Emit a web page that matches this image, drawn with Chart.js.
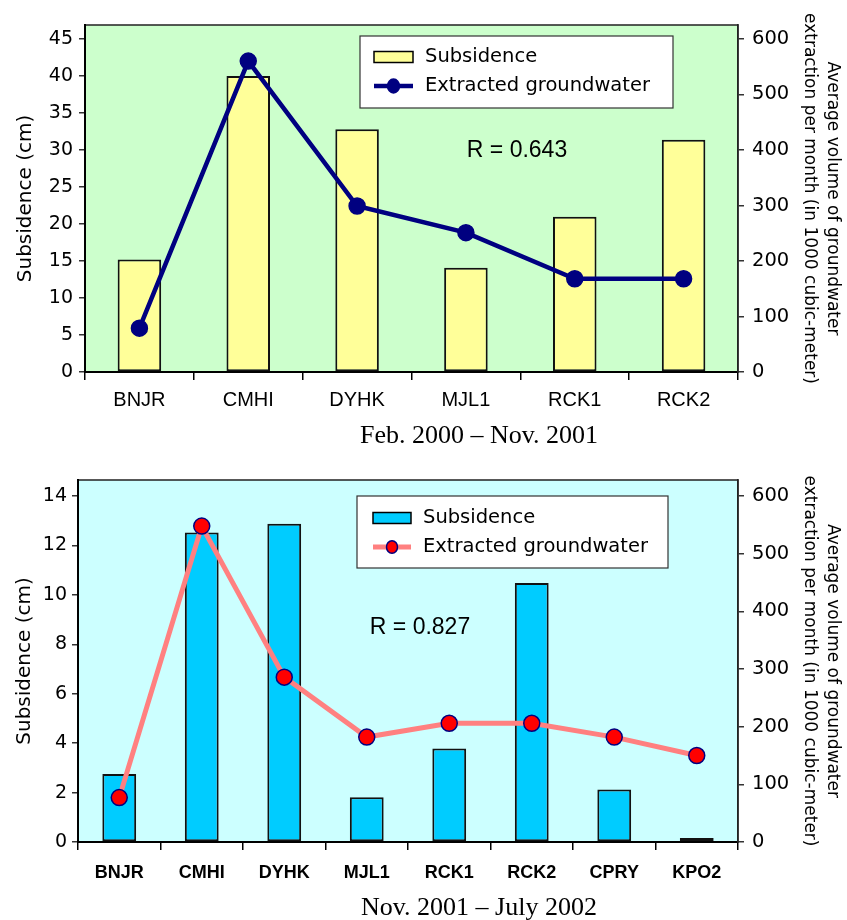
<!DOCTYPE html>
<html>
<head>
<meta charset="utf-8">
<script src="https://cdn.jsdelivr.net/npm/chart.js@4.4.1/dist/chart.umd.min.js"></script>
<style>
  body { margin: 0; background: #fff; }
  #wrap { position: relative; width: 847px; height: 920px; }
  #wrap canvas { position: absolute; left: 0; }
  .caption {
    position: absolute; left: 329px; width: 300px; text-align: center;
    font: 26px 'Liberation Serif', 'Times New Roman', serif; line-height: 30px; color: #000;
  }
</style>
</head>
<body>
<div id="wrap">
  <canvas id="chartTop" width="847" height="460" style="top:0"></canvas>
  <canvas id="chartBottom" width="847" height="460" style="top:460px"></canvas>
  <div class="caption" style="top:420px">Feb. 2000 – Nov. 2001</div>
  <div class="caption" style="top:892px">Nov. 2001 – July 2002</div>
</div>
<script>
// --- DATA ---
// Feb. 2000 - Nov. 2001
const sitesTop = ['BNJR', 'CMHI', 'DYHK', 'MJL1', 'RCK1', 'RCK2'];
const subsidenceTop = [15.2, 40.0, 32.8, 14.1, 21.0, 31.4];      // cm
const groundwaterTop = [79, 560, 299, 251, 168, 168];            // 1000 m3 / month
const rTop = 'R = 0.643';

// Nov. 2001 - July 2002
const sitesBottom = ['BNJR', 'CMHI', 'DYHK', 'MJL1', 'RCK1', 'RCK2', 'CPRY', 'KPO2'];
const subsidenceBottom = [2.75, 12.53, 12.88, 1.81, 3.78, 10.48, 2.12, 0.16];
const groundwaterBottom = [77, 548, 286, 182, 206, 206, 182, 150];
const rBottom = 'R = 0.827';

const leftTicksTop = [0, 5, 10, 15, 20, 25, 30, 35, 40, 45];
const leftTicksBottom = [0, 2, 4, 6, 8, 10, 12, 14];
const rightTicks = [0, 100, 200, 300, 400, 500, 600];

const subsidenceLabel = 'Subsidence';
const groundwaterLabel = 'Extracted groundwater';
const leftTitle = 'Subsidence (cm)';
const rightTitle = ['Average volume of groundwater', 'extraction per month (in 1000 cubic-meter)'];

Chart.defaults.font.family = "'DejaVu Sans', Verdana, sans-serif";
Chart.defaults.color = '#000';

// plot background + frame
const plotFrame = {
  id: 'plotFrame',
  beforeDraw(chart, args, o) {
    const { ctx, chartArea: a } = chart;
    ctx.save();
    ctx.fillStyle = o.color;
    ctx.fillRect(a.left, a.top, a.right - a.left, a.bottom - a.top);
    ctx.strokeStyle = '#222';
    ctx.lineWidth = 1.5;
    ctx.strokeRect(a.left, a.top, a.right - a.left, a.bottom - a.top);
    ctx.restore();
  }
};

// boxed legend inside the plot + the R label
const boxLegend = {
  id: 'boxLegend',
  afterDraw(chart, args, o) {
    const ctx = chart.ctx;
    const line = chart.data.datasets[0];
    const bar = chart.data.datasets[1];
    ctx.save();
    ctx.fillStyle = '#fff';
    ctx.fillRect(o.x, o.y, o.w, o.h);
    ctx.strokeStyle = '#333';
    ctx.lineWidth = 1.2;
    ctx.strokeRect(o.x, o.y, o.w, o.h);

    // bar swatch
    ctx.fillStyle = bar.backgroundColor;
    ctx.fillRect(o.swX, o.row1 - 5.5, o.swW, 11);
    ctx.strokeStyle = '#000';
    ctx.lineWidth = 1.5;
    ctx.strokeRect(o.swX, o.row1 - 5.5, o.swW, 11);

    // line swatch
    ctx.strokeStyle = line.borderColor;
    ctx.lineWidth = line.borderWidth;
    ctx.beginPath();
    ctx.moveTo(o.swX, o.row2);
    ctx.lineTo(o.swX + o.swW, o.row2);
    ctx.stroke();
    ctx.beginPath();
    ctx.ellipse(o.swX + o.swW / 2, o.row2, o.dotR, o.dotR * 1.15, 0, 0, Math.PI * 2);
    ctx.fillStyle = line.pointBackgroundColor;
    ctx.fill();
    ctx.strokeStyle = line.pointBorderColor;
    ctx.lineWidth = line.pointBorderWidth;
    ctx.stroke();

    ctx.fillStyle = '#000';
    ctx.textBaseline = 'middle';
    ctx.font = "19.5px 'DejaVu Sans', Verdana, sans-serif";
    ctx.fillText(bar.label, o.textX, o.row1);
    ctx.fillText(line.label, o.textX, o.row2);

    ctx.font = "23px 'Liberation Sans', Arial, sans-serif";
    ctx.textAlign = 'center';
    ctx.fillText(o.rText, o.rX, o.rY);
    ctx.restore();
  }
};

function makeChart(canvasId, s) {
  const ctx = document.getElementById(canvasId).getContext('2d');
  return new Chart(ctx, {
    type: 'bar',
    data: {
      labels: s.labels,
      datasets: [{
        type: 'line',
        label: groundwaterLabel,
        data: s.groundwater,
        yAxisID: 'y1',
        borderColor: s.lineColor,
        borderWidth: s.lineWidth,
        pointRadius: 8,
        pointBackgroundColor: s.pointFill,
        pointBorderColor: s.pointBorder,
        pointBorderWidth: 1.5,
        tension: 0,
        order: 1
      }, {
        label: subsidenceLabel,
        data: s.subsidence,
        yAxisID: 'y',
        backgroundColor: s.barColor,
        borderColor: '#111',
        borderWidth: 2,
        borderSkipped: false,
        categoryPercentage: 1,
        barPercentage: s.barPct,
        order: 2
      }]
    },
    options: {
      responsive: false,
      animation: false,
      devicePixelRatio: 1,
      layout: { padding: { top: s.top, left: 0, right: 0, bottom: 0 } },
      plugins: {
        legend: { display: false },
        tooltip: { enabled: false },
        plotFrame: { color: s.bg },
        boxLegend: s.legend
      },
      scales: {
        x: {
          offset: true,
          afterFit: sc => { sc.height = s.xHeight; },
          grid: { offset: true, drawOnChartArea: false, tickLength: 8, color: '#000', lineWidth: 1.5 },
          border: { color: '#000', width: 2 },
          ticks: {
            padding: s.xPad,
            font: { family: "'Liberation Sans', Arial, sans-serif", size: s.xFontSize, weight: s.xWeight }
          }
        },
        y: {
          position: 'left',
          min: 0,
          max: s.leftMax,
          afterFit: sc => { sc.width = s.leftWidth; },
          afterBuildTicks: sc => { sc.ticks = s.leftTicks.map(v => ({ value: v })); },
          grid: { drawOnChartArea: false, tickLength: 6, color: '#333', lineWidth: 1.5 },
          border: { color: '#000', width: 2 },
          ticks: { padding: s.yPad, font: { size: 19 } },
          title: {
            display: true,
            text: leftTitle,
            font: { size: 20 },
            padding: { top: s.leftTitlePad, bottom: 0 }
          }
        },
        y1: {
          position: 'right',
          min: 0,
          max: s.rightMax,
          afterFit: sc => { sc.width = s.rightWidth; },
          afterBuildTicks: sc => { sc.ticks = rightTicks.map(v => ({ value: v })); },
          grid: { drawOnChartArea: false, tickLength: 6, color: '#333', lineWidth: 1.5 },
          border: { color: '#222', width: 1.5 },
          ticks: { padding: 8, font: { size: 19.5 } },
          title: {
            display: true,
            text: rightTitle,
            font: { size: 17, lineHeight: 1.3 },
            padding: { top: 4, bottom: 0 }
          }
        }
      }
    },
    plugins: [plotFrame, boxLegend]
  });
}

makeChart('chartTop', {
  labels: sitesTop,
  subsidence: subsidenceTop,
  groundwater: groundwaterTop,
  leftTicks: leftTicksTop,
  leftMax: 46.9,
  rightMax: 625,
  bg: '#ccffcc',
  barColor: '#ffff99',
  barPct: 0.4,
  lineColor: '#000080',
  lineWidth: 4.5,
  pointFill: '#000080',
  pointBorder: '#000080',
  top: 25,
  xHeight: 88,
  xPad: 8,
  xFontSize: 20,
  xWeight: 'normal',
  leftWidth: 85,
  rightWidth: 109,
  yPad: 6,
  leftTitlePad: 14,
  legend: {
    x: 360, y: 36, w: 313, h: 72,
    swX: 374, swW: 39, row1: 57, row2: 86, textX: 425, dotR: 6,
    rText: rTop, rX: 517, rY: 151
  }
});

makeChart('chartBottom', {
  labels: sitesBottom,
  subsidence: subsidenceBottom,
  groundwater: groundwaterBottom,
  leftTicks: leftTicksBottom,
  leftMax: 14.65,
  rightMax: 628,
  bg: '#ccffff',
  barColor: '#00ccff',
  barPct: 0.41,
  lineColor: '#ff8080',
  lineWidth: 5,
  pointFill: '#ff0000',
  pointBorder: '#000080',
  top: 20,
  xHeight: 78,
  xPad: 12,
  xFontSize: 18,
  xWeight: 'bold',
  leftWidth: 78,
  rightWidth: 109,
  yPad: 5,
  leftTitlePad: 13,
  legend: {
    x: 357, y: 36, w: 311, h: 72,
    swX: 373, swW: 38, row1: 58, row2: 87, textX: 423, dotR: 5.5,
    rText: rBottom, rX: 420, rY: 168
  }
});
</script>
</body>
</html>
